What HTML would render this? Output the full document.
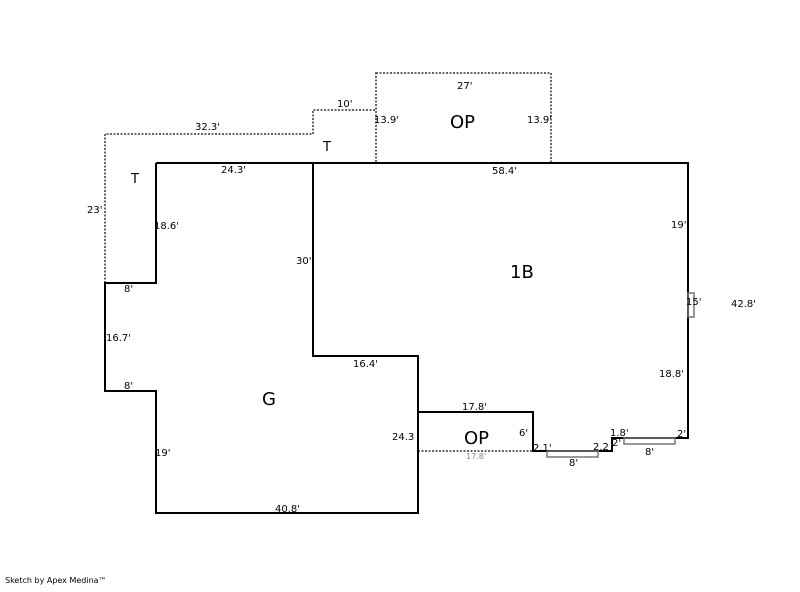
<!DOCTYPE html><html><head><style>body{margin:0;background:#fff}svg text{font-family:"DejaVu Sans","Liberation Sans",sans-serif;font-size:10px;fill:#000}</style></head><body>
<svg width="800" height="587" xmlns="http://www.w3.org/2000/svg">
<g fill="none" stroke="#666" stroke-width="2" stroke-dasharray="2,1.5">
<polyline points="105,283 105,134 313,134 313,110 376,110"/>
<rect x="376" y="73" width="175" height="90"/>
<line x1="418" y1="451" x2="533" y2="451"/>
</g>
<g fill="none" stroke="#000" stroke-width="2">
<polyline points="156,163 688,163 688,438 612,438 612,451 533,451 533,412 418,412"/>
<polyline points="156,163 156,283 105,283 105,391 156,391 156,513 418,513 418,356 313,356 313,163"/>
<line x1="418" y1="356" x2="418" y2="412"/>
</g>
<g fill="none" stroke="#777" stroke-width="1.5">
<rect x="547" y="451" width="51" height="6"/>
<rect x="624" y="438" width="51" height="6"/>
<rect x="688" y="293" width="6" height="24"/>
</g>
<text x="195" y="130">32.3'</text><text x="337" y="107">10'</text><text x="457" y="89">27'</text>
<text x="374" y="123">13.9'</text><text x="527" y="123">13.9'</text>
<text x="450" y="128" style="font-size:18px">OP</text>
<text x="323" y="151" style="font-size:13px">T</text><text x="131" y="183" style="font-size:13px">T</text>
<text x="221" y="173">24.3'</text><text x="492" y="174">58.4'</text>
<text x="87" y="213">23'</text><text x="154" y="229">18.6'</text><text x="296" y="264">30'</text>
<text x="671" y="228">19'</text><text x="510" y="278" style="font-size:18px">1B</text>
<text x="686" y="305">15'</text><text x="731" y="307">42.8'</text>
<text x="124" y="292">8'</text><text x="106" y="341">16.7'</text><text x="124" y="389">8'</text>
<text x="353" y="367">16.4'</text><text x="659" y="377">18.8'</text>
<text x="262" y="405" style="font-size:18px">G</text>
<text x="462" y="410">17.8'</text><text x="392" y="440">24.3</text><text x="519" y="436">6'</text>
<text x="464" y="444" style="font-size:18px">OP</text>
<text x="466" y="459" style="font-size:8px;fill:#888">17.8'</text>
<text x="533" y="451">2.1'</text><text x="593" y="450">2.2</text><text x="612" y="446">2'</text>
<text x="610" y="436">1.8'</text><text x="677" y="437">2'</text>
<text x="569" y="466">8'</text><text x="645" y="455">8'</text>
<text x="155" y="456">19'</text><text x="275" y="512">40.8'</text>
<text x="5" y="583" style="font-size:8px">Sketch by Apex Medina™</text>
</svg></body></html>
